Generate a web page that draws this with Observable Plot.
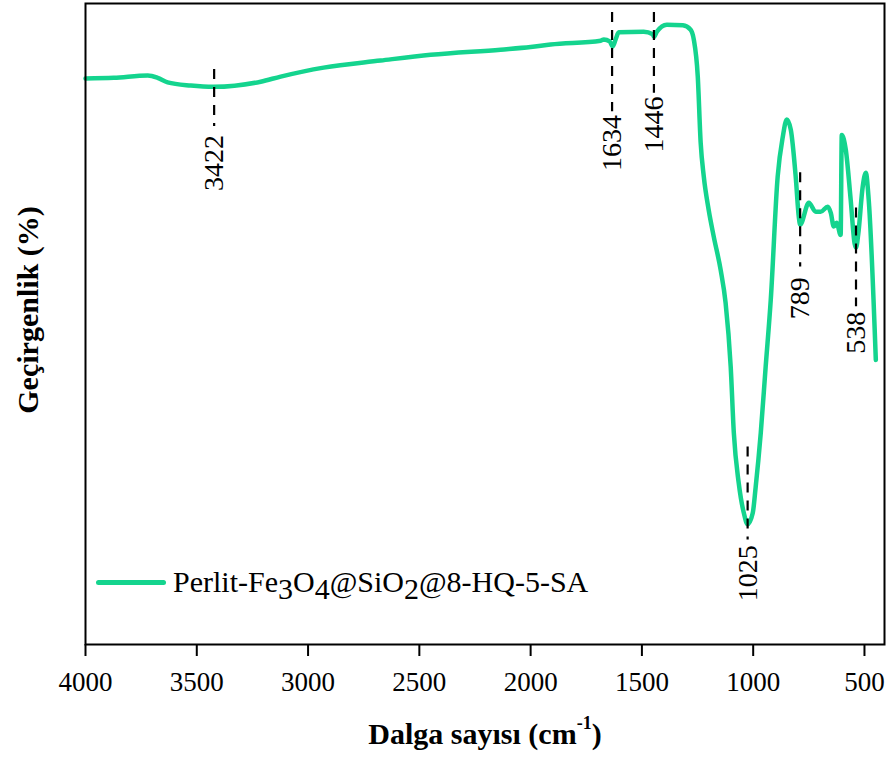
<!DOCTYPE html>
<html>
<head>
<meta charset="utf-8">
<script src="https://cdn.jsdelivr.net/npm/d3@7"></script>
<script src="https://cdn.jsdelivr.net/npm/@observablehq/plot@0.6"></script>
<style>
  html, body { margin: 0; padding: 0; background: white; }
  #wrap { position: relative; width: 887px; height: 760px; font-family: "Liberation Serif", "Times New Roman", serif; }
  #xtitle { position: absolute; left: 0; width: 970px; top: 717px; text-align: center; font-weight: bold; font-size: 30px; }
  #xtitle sup { font-size: 18px; position: relative; top: -4px; vertical-align: super; }
  #ytitle { position: absolute; left: 28px; top: 310px; transform: translate(-50%, -50%) rotate(-90deg); white-space: nowrap; font-weight: bold; font-size: 30px; }
  #legend { position: absolute; left: 96px; top: 565px; display: flex; align-items: center; font-size: 30px; white-space: nowrap; line-height: 34px; }
  #legend .sw { display: inline-block; width: 70px; height: 5px; border-radius: 3px; margin-right: 7px; }
  #legend sub { font-size: 30px; position: relative; top: 7px; vertical-align: baseline; line-height: 0; }
</style>
</head>
<body>
<div id="wrap"></div>
<script>
// Spectrum: wavenumber (cm-1) and transmittance (arbitrary %)
const wavenumber = [4000, 3873, 3720, 3676, 3631, 3527, 3424, 3213, 3123, 2930, 2674, 2449, 2135, 2000, 1910, 1685, 1671, 1645, 1631, 1618, 1604, 1492, 1451, 1446, 1433, 1388, 1316, 1281, 1267, 1249, 1236, 1222, 1200, 1177, 1146, 1124, 1101, 1087, 1065, 1042, 1025, 1002, 989, 966, 944, 921, 890, 867, 849, 831, 809, 795, 789, 750, 719, 697, 665, 651, 638, 625, 607, 602, 584, 562, 544, 538, 528, 508, 494, 481, 449];
const transmittance = [88.3, 88.4, 88.75, 88.4, 87.7, 87.2, 87.0, 87.8, 88.6, 90.0, 91.1, 92.0, 92.8, 93.2, 93.6, 94.2, 94.4, 94.1, 93.3, 94.4, 95.5, 95.6, 95.2, 94.8, 95.6, 96.7, 96.6, 95.9, 94.4, 88.6, 78.3, 73.0, 67.8, 63.6, 58.4, 53.3, 43.3, 33.0, 25.2, 20.5, 18.75, 20.5, 24.5, 33.0, 43.3, 53.8, 73.0, 79.2, 81.9, 80.3, 73.0, 66.7, 65.5, 68.9, 67.5, 67.5, 68.3, 67.3, 65.2, 65.8, 63.9, 79.5, 77.2, 69.4, 62.5, 61.9, 64.0, 71.4, 73.6, 69.4, 44.4];

// Peak annotations
const peakWn = [3422, 1634, 1446, 1025, 789, 538];
const peakLabel = ["3422", "1634", "1446", "1025", "789", "538"];
const dashFrom = [89.7, 98.6, 98.6, 30.8, 73.6, 68.1];
const dashTo = [80.8, 83.1, 86.0, 16.3, 58.9, 52.7];
const labelAt = [79.5, 82.6, 85.5, 15.5, 57.3, 51.9];

// Axis ticks
const xTicks = [4000, 3500, 3000, 2500, 2000, 1500, 1000, 500];

const seriesName = "Perlit-Fe<sub>3</sub>O<sub>4</sub>@SiO<sub>2</sub>@8-HQ-5-SA";
const lineColor = "#14d48e";

const spectrum = wavenumber.map((w, i) => ({wn: w, t: transmittance[i]}));
const peaks = peakWn.map((w, i) => ({wn: w, label: peakLabel[i], d1: dashFrom[i], d2: dashTo[i], ty: labelAt[i]}));

const chart = Plot.plot({
  width: 887,
  height: 760,
  marginTop: 3,
  marginRight: 3,
  marginBottom: 116,
  marginLeft: 85,
  style: {fontSize: "27px", color: "black", background: "white"},
  x: {domain: [4000, 410], ticks: xTicks, tickSize: 12, tickPadding: 15, tickFormat: d => String(d), label: null},
  y: {domain: [0, 100], axis: null},
  marks: [
    Plot.line(spectrum, {x: "wn", y: "t", stroke: lineColor, strokeWidth: 4.5, curve: "monotone-x"}),
    Plot.ruleX(peaks, {x: "wn", y1: "d1", y2: "d2", stroke: "black", strokeWidth: 2.2, strokeDasharray: "10,8"}),
    Plot.text(peaks, {x: "wn", y: "ty", text: "label", rotate: -90, textAnchor: "end", fontSize: 28, fontFamily: "Times New Roman, serif", fill: "black"}),
    Plot.frame({stroke: "black", strokeWidth: 2})
  ]
});
chart.querySelectorAll("[aria-label='x-axis tick']").forEach(g => g.setAttribute("stroke-width", 2));
chart.setAttribute("font-family", "serif");
chart.querySelectorAll("[aria-label='x-axis tick label'], [aria-label='x-axis tick label'] text").forEach(t => { t.setAttribute("font-family", "serif"); t.style.fontFamily = "serif"; t.removeAttribute("font-variant"); });

const wrap = document.getElementById("wrap");
wrap.appendChild(chart);
const legend = document.createElement("div");
legend.id = "legend";
legend.innerHTML = `<span class="sw" style="background:${lineColor}"></span><span>${seriesName}</span>`;
wrap.appendChild(legend);
const xt = document.createElement("div");
xt.id = "xtitle";
xt.innerHTML = "Dalga sayısı (cm<sup>-1</sup>)";
wrap.appendChild(xt);
const yt = document.createElement("div");
yt.id = "ytitle";
yt.textContent = "Geçirgenlik (%)";
wrap.appendChild(yt);
</script>
</body>
</html>
